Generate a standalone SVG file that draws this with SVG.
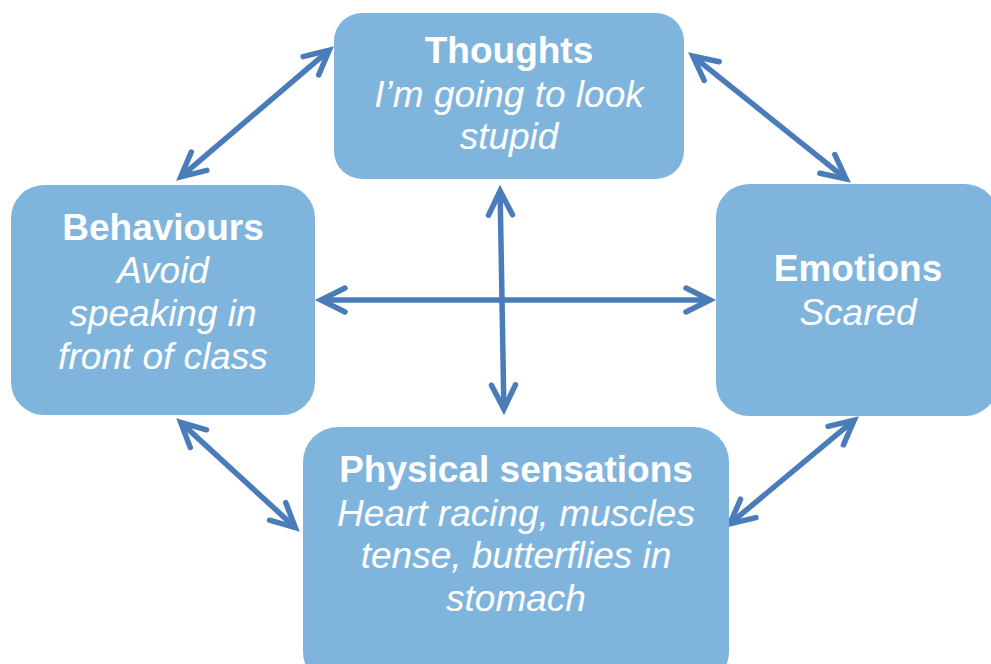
<svg xmlns="http://www.w3.org/2000/svg" width="991" height="664" viewBox="0 0 991 664">
<style>
.box{fill:#7fb5dd;}
.t{font-family:"Liberation Sans",Arial,sans-serif;font-size:37px;fill:#ffffff;text-anchor:middle;}
.h{font-weight:bold;}
.i{font-style:italic;}
.c{stroke:#4a7cba;stroke-width:5.5;fill:none;marker-start:url(#ah);marker-end:url(#ah);}
</style>
<defs>
<marker id="ah" markerUnits="userSpaceOnUse" viewBox="-30 -16 40 32" markerWidth="40" markerHeight="32" refX="0" refY="0" orient="auto-start-reverse" overflow="visible">
<path d="M-24,-12 L0,0 L-24,12" fill="none" stroke="#4a7cba" stroke-width="5.5" stroke-linecap="round" stroke-linejoin="miter"/>
</marker>
</defs>
<rect width="991" height="664" fill="#ffffff"/>
<g id="connectors">
<line class="c" x1="180.8" y1="176.8" x2="329.2" y2="50.2"/>
<line class="c" x1="692.9" y1="56.1" x2="846.1" y2="178.9"/>
<line class="c" x1="500.1" y1="191" x2="503.9" y2="409"/>
<line class="c" x1="321" y1="300" x2="710" y2="300"/>
<line class="c" x1="180.7" y1="422.4" x2="295.3" y2="527.6"/>
<line class="c" x1="854.2" y1="420.2" x2="729.8" y2="523.8"/>
</g>
<g id="thoughts">
<rect class="box" x="334" y="13" width="350" height="166" rx="28"/>
<text class="t h" x="509" y="63">Thoughts</text>
<text class="t i" x="509" y="107">I’m going to look</text>
<text class="t i" x="509" y="149">stupid</text>
</g>
<g id="behaviours">
<rect class="box" x="11" y="185" width="304" height="230" rx="33"/>
<text class="t h" x="163" y="240">Behaviours</text>
<text class="t i" x="163" y="283">Avoid</text>
<text class="t i" x="163" y="326">speaking in</text>
<text class="t i" x="163" y="369">front of class</text>
</g>
<g id="emotions">
<rect class="box" x="716" y="184" width="282" height="232" rx="33"/>
<text class="t h" x="858" y="281">Emotions</text>
<text class="t i" x="858" y="325">Scared</text>
</g>
<g id="physical">
<rect class="box" x="303" y="427" width="426" height="260" rx="35"/>
<text class="t h" x="516" y="482">Physical sensations</text>
<text class="t i" x="516" y="526">Heart racing, muscles</text>
<text class="t i" x="516" y="568">tense, butterflies in</text>
<text class="t i" x="516" y="611">stomach</text>
</g>
</svg>
